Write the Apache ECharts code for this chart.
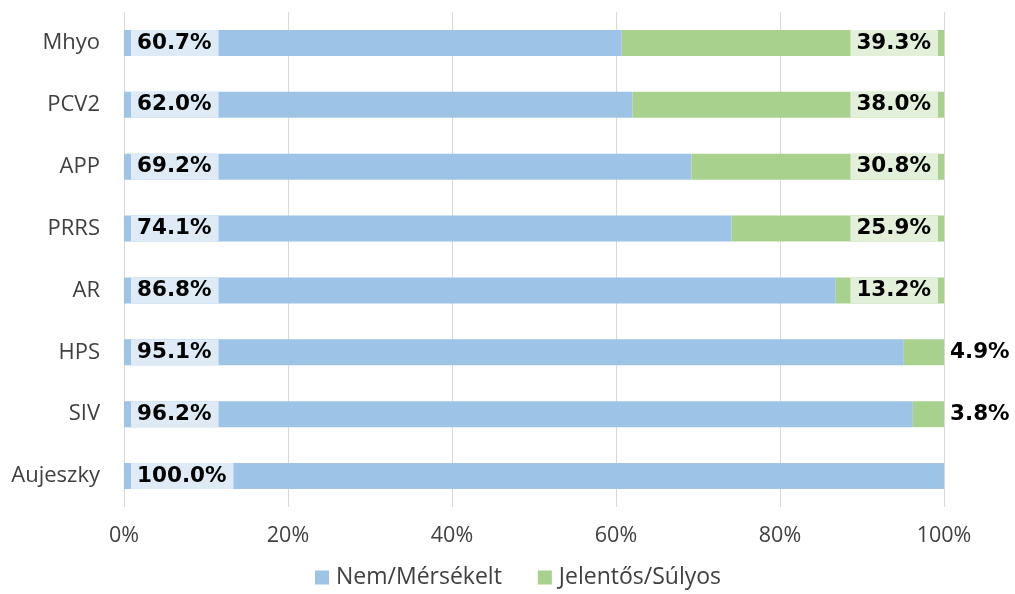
<!DOCTYPE html>
<html>
<head>
<meta charset="utf-8">
<script src="https://cdn.jsdelivr.net/npm/echarts@6/dist/echarts.min.js"></script>
<style>
  html, body { margin: 0; padding: 0; background: #ffffff; }
  #chart { width: 1015px; height: 594px; }
</style>
</head>
<body>
<div id="chart"></div>
<script>
// Pathogens, listed top to bottom
const categories = ['Mhyo', 'PCV2', 'APP', 'PRRS', 'AR', 'HPS', 'SIV', 'Aujeszky'];
// Share (%) of herds by severity
const nemMersekelt = [60.7, 62.0, 69.2, 74.1, 86.8, 95.1, 96.2, 100.0];
const jelentosSulyos = [39.3, 38.0, 30.8, 25.9, 13.2, 4.9, 3.8, 0];
const seriesNames = ['Nem/Mérsékelt', 'Jelentős/Súlyos'];
const tickLabels = ['0%', '20%', '40%', '60%', '80%', '100%'];

const BLUE = '#9dc3e6';
const GREEN = '#a9d18e';
const TEXT = '#404040';
const LABEL_FONT = 'DejaVu Sans';
const AXIS_FONT = 'Open Sans';

const fmt = p => p.value.toFixed(1) + '%';

const baseLabel = {
  show: true,
  fontFamily: LABEL_FONT,
  fontWeight: 'bold',
  fontSize: 21.5,
  color: '#000000',
  lineHeight: 26,
  padding: [0, 7, 0, 6],
  formatter: fmt
};

const blueData = nemMersekelt.map(v => ({ value: v }));
const greenData = jelentosSulyos.map(v => {
  if (v === 0) return { value: v, label: { show: false } };
  if (v < 10) {
    return { value: v, label: { position: 'right', distance: 6, backgroundColor: 'transparent', padding: 0 } };
  }
  return { value: v };
});

const chart = echarts.init(document.getElementById('chart'), null, { renderer: 'canvas' });
chart.setOption({
  animation: false,
  grid: { left: 124, right: 71, top: 12, bottom: 87, containLabel: false },
  legend: {
    data: seriesNames,
    bottom: 0,
    left: 310,
    itemWidth: 14,
    itemHeight: 14,
    itemGap: 36,
    icon: 'rect',
    textStyle: { fontFamily: AXIS_FONT, fontSize: 23, color: TEXT, padding: [0, 0, 0, 2] }
  },
  xAxis: {
    type: 'value',
    min: 0,
    max: 100,
    interval: 20,
    axisLine: { show: false },
    axisTick: { show: false },
    splitLine: { lineStyle: { color: '#d9d9d9', width: 1 } },
    axisLabel: {
      margin: 18,
      fontFamily: AXIS_FONT,
      fontSize: 21.5,
      color: TEXT,
      formatter: v => tickLabels[v / 20]
    }
  },
  yAxis: {
    type: 'category',
    data: categories,
    inverse: true,
    axisLine: { show: false },
    axisTick: { show: false },
    axisLabel: { margin: 24, fontFamily: AXIS_FONT, fontSize: 22, color: TEXT }
  },
  series: [
    {
      name: seriesNames[0],
      type: 'bar',
      stack: 'total',
      barWidth: 26,
      itemStyle: { color: BLUE },
      label: Object.assign({}, baseLabel, {
        position: 'insideLeft',
        distance: 7,
        backgroundColor: '#deebf7'
      }),
      data: blueData
    },
    {
      name: seriesNames[1],
      type: 'bar',
      stack: 'total',
      barWidth: 26,
      itemStyle: { color: GREEN },
      label: Object.assign({}, baseLabel, {
        position: 'insideRight',
        distance: 6,
        backgroundColor: '#e2f0d9'
      }),
      data: greenData
    }
  ]
});
</script>
</body>
</html>
